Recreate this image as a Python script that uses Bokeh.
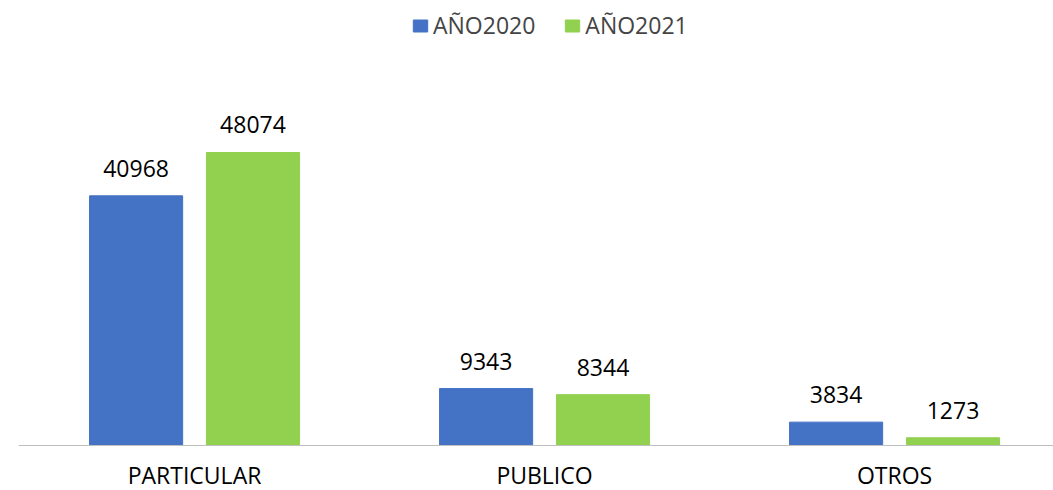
import numpy as np
from bokeh.plotting import figure
from bokeh.models import (ColumnDataSource, Range1d, FixedTicker, LabelSet, Legend, LegendItem)
from bokeh.core.properties import value
from bokeh.embed import file_html
from bokeh.resources import INLINE

categories = ["PARTICULAR", "PUBLICO", "OTROS"]
series_names = ["AÑO2020", "AÑO2021"]
values_2020 = [40968, 9343, 3834]
values_2021 = [48074, 8344, 1273]

colors = ["#4472C4", "#92D050"]
FONT = "Open Sans"

pos = np.arange(len(categories))
off = 0.167
bw = 0.266

p = figure(width=1053, height=490, output_backend="svg", toolbar_location=None,
           x_range=Range1d(-0.503, -0.503 + 1035 / 350), y_range=Range1d(-7383, 73011),
           min_border_left=18, min_border_right=0, min_border_top=0, min_border_bottom=0)
p.outline_line_color = None
p.xgrid.visible = False
p.ygrid.visible = False
p.yaxis.visible = False

src1 = ColumnDataSource(dict(x=pos - off, y=values_2020, lab=[str(v) for v in values_2020]))
src2 = ColumnDataSource(dict(x=pos + off, y=values_2021, lab=[str(v) for v in values_2021]))
r1 = p.vbar(x="x", top="y", width=bw, source=src1, color=colors[0])
r2 = p.vbar(x="x", top="y", width=bw, source=src2, color=colors[1])

for s in (src1, src2):
    p.add_layout(LabelSet(x="x", y="y", text="lab", source=s, y_offset=19,
                          text_align="center", text_baseline="bottom",
                          text_font=value(FONT), text_font_size=value("23px"),
                          text_color="#000000"))

ax = p.xaxis[0]
ax.fixed_location = 0
ax.ticker = FixedTicker(ticks=list(pos))
ax.major_label_overrides = {int(i): c for i, c in enumerate(categories)}
ax.major_tick_line_color = None
ax.minor_tick_line_color = None
ax.major_tick_out = 0
ax.major_tick_in = 0
ax.axis_line_color = "#BFBFBF"
ax.axis_line_width = 1
ax.major_label_text_font = FONT
ax.major_label_text_font_size = "23px"
ax.major_label_text_color = "#000000"
ax.major_label_standoff = 13

legend = Legend(items=[LegendItem(label=series_names[0], renderers=[r1]),
                       LegendItem(label=series_names[1], renderers=[r2])],
                orientation="horizontal", location=(393, 449),
                glyph_width=18, glyph_height=15, label_text_font=FONT,
                label_text_font_size="23px", label_standoff=4, spacing=28,
                padding=0, margin=0, border_line_color=None, background_fill_alpha=0)
p.add_layout(legend)

open("out.html", "w").write(file_html(p, INLINE))
